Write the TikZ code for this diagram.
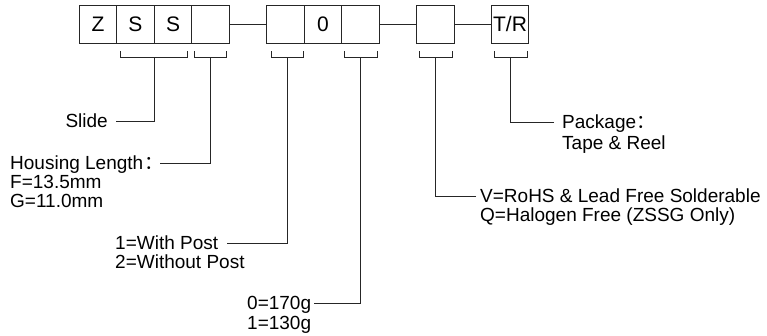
\documentclass[tikz,border=0pt]{standalone}
\usepackage{fontspec}
\setmainfont{Liberation Sans}
\newfontfamily\cjk{Noto Sans CJK SC}
\begin{document}
\begin{tikzpicture}[x=1pt,y=-1pt,
  ln/.style={draw=black!85, line width=0.9pt},
  cell/.style={draw=black!85, line width=0.9pt, minimum width=37.5pt, minimum height=38pt, inner sep=0pt, font=\fontsize{21}{21}\selectfont},
  lbl/.style={inner sep=0pt, font=\fontsize{19}{19}\selectfont}]
\useasboundingbox (0,0) rectangle (767,335);
% cells
\node[cell] (c1) at (98,24) {Z};
\node[cell] (c2) at (135.5,24) {S};
\node[cell] (c3) at (173,24) {S};
\node[cell] (c4) at (210.5,24) {};
\node[cell] (c5) at (285.5,24) {};
\node[cell] (c6) at (323,24) {0};
\node[cell] (c7) at (360.5,24) {};
\node[cell] (c8) at (435.5,24) {};
\node[cell] (c9) at (510,24) {T/R};
\draw[ln] (c4.east) -- (c5.west);
\draw[ln] (c7.east) -- (c8.west);
\draw[ln] (c8.east) -- (c9.west);
% brackets
\draw[ln] (120,51) |- (187,57) -- (187,51);
\draw[ln] (194.5,51) |- (226.5,57) -- (226.5,51);
\draw[ln] (271,51) |- (303,57) -- (303,51);
\draw[ln] (344,51) |- (377,57) -- (377,51);
\draw[ln] (419,51) |- (452,57) -- (452,51);
\draw[ln] (494,51) |- (527,57) -- (527,51);
\coordinate (b1) at (154,57);
\coordinate (b2) at (210.5,57);
\coordinate (b3) at (287,57);
\coordinate (b4) at (360.5,57);
\coordinate (b5) at (435.5,57);
\coordinate (b6) at (510.5,57);
% labels
\node[lbl, anchor=base east] (slide) at (108,127.5) {Slide};
\coordinate (s1) at (116,121);
\draw[ln] (s1) -| (b1);

\node[lbl, anchor=base west] (hl) at (10,169.5) {Housing Length\hspace{1pt}{\cjk ：}};
\node[lbl, anchor=base west] (hf) at (10,188.5) {F=13.5mm};
\node[lbl, anchor=base west] (hg) at (10,207.5) {G=11.0mm};
\coordinate (s2) at (160,163);
\draw[ln] (s2) -| (b2);

\node[lbl, anchor=base west] (p1) at (115,249.5) {1=With Post};
\node[lbl, anchor=base west] (p2) at (115,268.5) {2=Without Post};
\coordinate (s3) at (227,243);
\draw[ln] (s3) -| (b3);

\node[lbl, anchor=base west] (w1) at (247,309.5) {0=170g};
\node[lbl, anchor=base west] (w2) at (247,329) {1=130g};
\coordinate (s4) at (314,303);
\draw[ln] (s4) -| (b4);

\node[lbl, anchor=base west] (v1) at (480,202.5) {V=RoHS \& Lead Free Solderable};
\node[lbl, anchor=base west] (v2) at (480,221.5) {Q=Halogen Free (ZSSG Only)};
\coordinate (s5) at (476,196);
\draw[ln] (s5) -| (b5);

\node[lbl, anchor=base west] (k1) at (562,128.5) {Package{\cjk ：}};
\node[lbl, anchor=base west] (k2) at (562,149) {Tape \& Reel};
\coordinate (s6) at (554,122);
\draw[ln] (s6) -| (b6);
\end{tikzpicture}
\end{document}
